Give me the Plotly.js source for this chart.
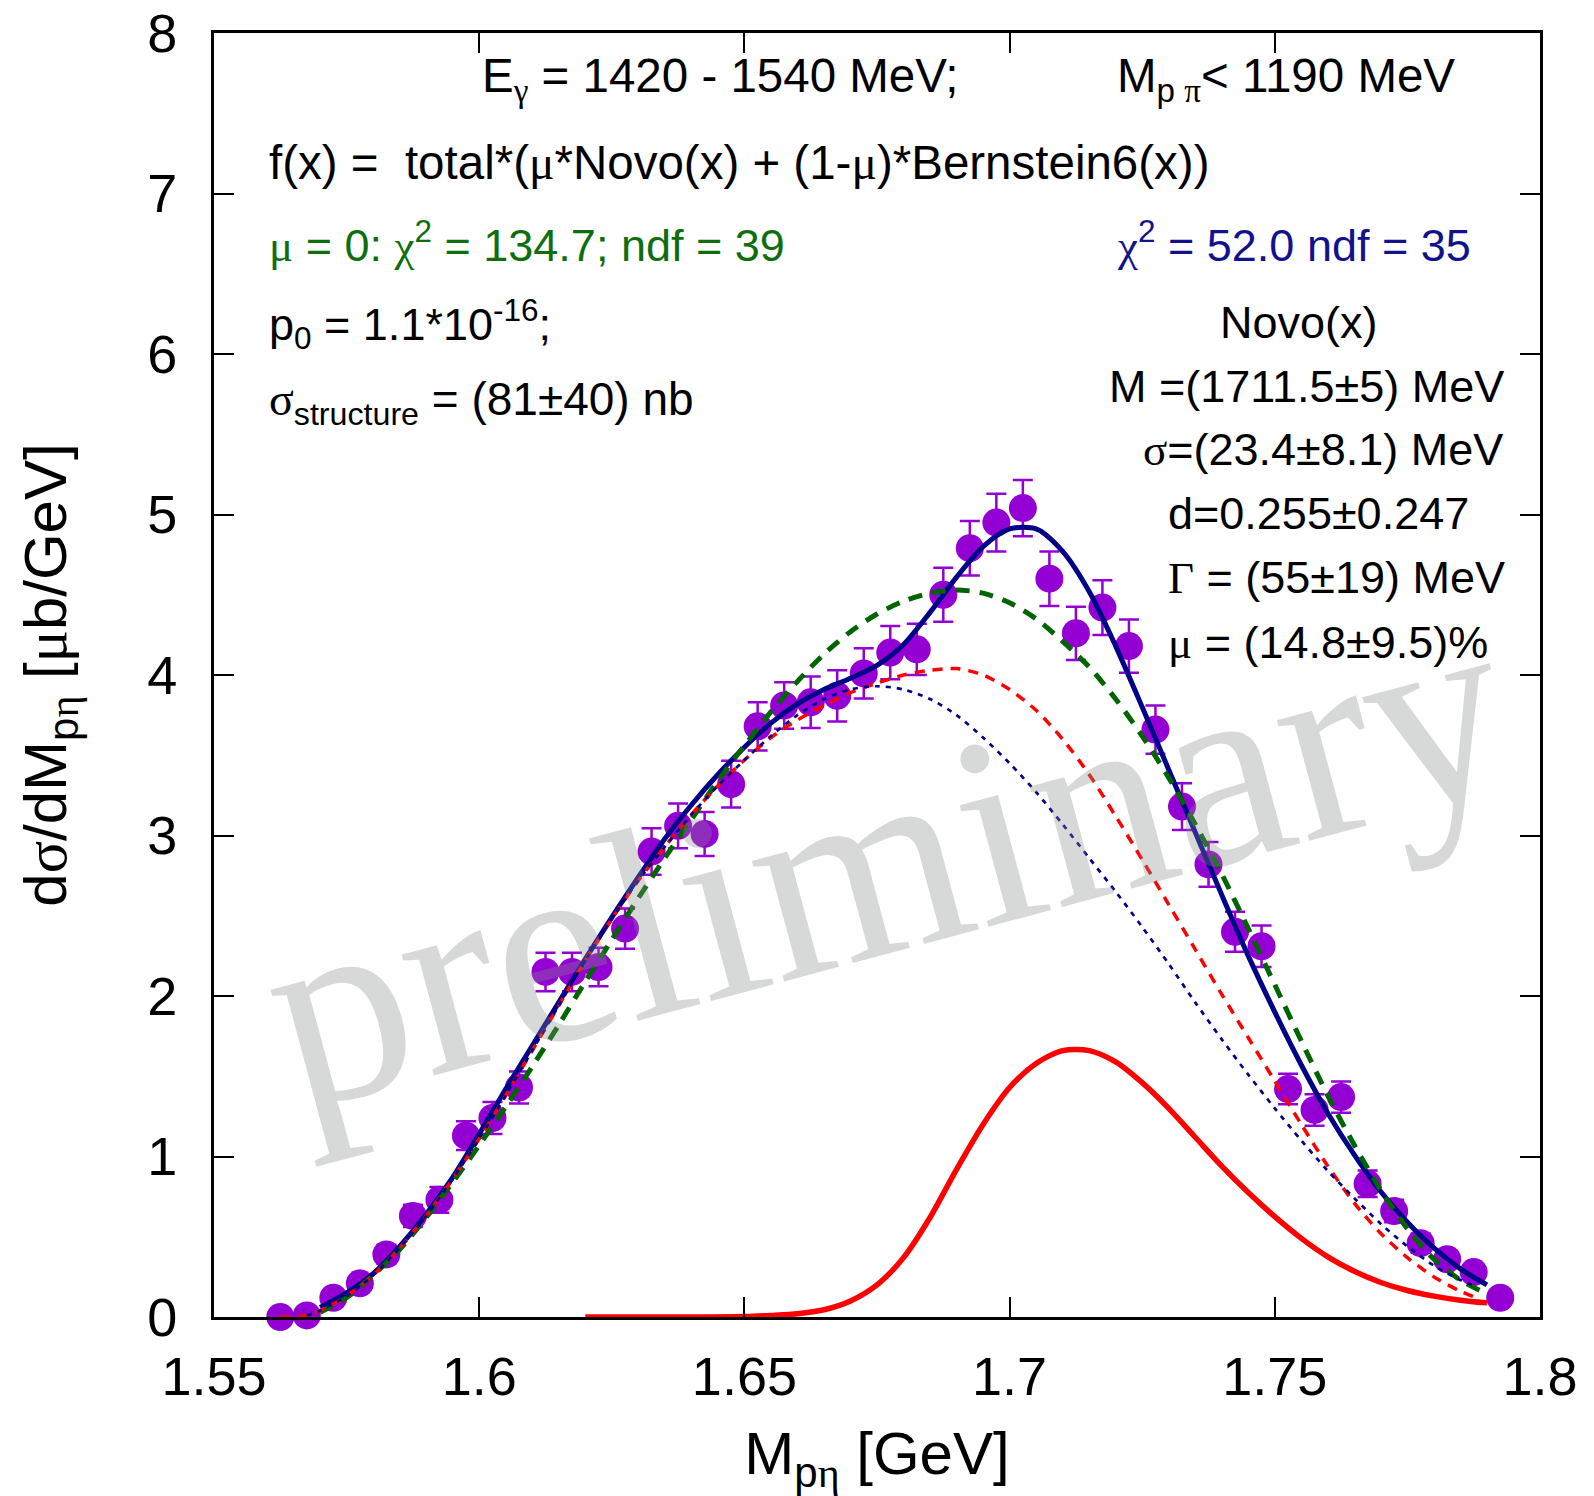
<!DOCTYPE html>
<html>
<head>
<meta charset="utf-8">
<script src="https://cdn.plot.ly/plotly-3.0.1.min.js"></script>
<style>
  html, body { margin: 0; padding: 0; background: #ffffff; }
  #chart { width: 1594px; height: 1496px; }
</style>
</head>
<body>
<div id="chart"></div>
<script>
// ---------------- data ----------------
const binCenters = [1.5625,1.5675,1.5725,1.5775,1.5825,1.5875,1.5925,1.5975,1.6025,1.6075,
  1.6125,1.6175,1.6225,1.6275,1.6325,1.6375,1.6425,1.6475,1.6525,1.6575,
  1.6625,1.6675,1.6725,1.6775,1.6825,1.6875,1.6925,1.6975,1.7025,1.7075,
  1.7125,1.7175,1.7225,1.7275,1.7325,1.7375,1.7425,1.7475,1.7525,1.7575,
  1.7625,1.7675,1.7725,1.7775,1.7825,1.7875,1.7925];
const crossSection = [0.00,0.01,0.12,0.21,0.39,0.63,0.73,1.13,1.24,1.43,
  2.15,2.15,2.18,2.42,2.90,3.06,3.01,3.32,3.68,3.81,
  3.83,3.87,4.01,4.14,4.16,4.50,4.79,4.95,5.04,4.60,
  4.26,4.42,4.18,3.66,3.18,2.82,2.40,2.31,1.42,1.29,
  1.37,0.83,0.66,0.46,0.36,0.28,0.12];
const crossSectionErr = [0.02,0.03,0.04,0.05,0.06,0.07,0.08,0.09,0.10,0.10,
  0.12,0.12,0.12,0.125,0.145,0.14,0.137,0.145,0.15,0.145,
  0.16,0.16,0.156,0.166,0.16,0.168,0.17,0.18,0.175,0.17,
  0.166,0.17,0.166,0.15,0.146,0.14,0.125,0.13,0.095,0.098,
  0.098,0.083,0.07,0.06,0.05,0.04,0.03];

// total fit (mu free) - navy solid
const totalFitX = [1.570,1.575,1.580,1.585,1.590,1.595,1.600,1.605,1.610,1.615,1.620,1.625,1.630,1.635,1.640,1.645,
  1.650,1.655,1.660,1.665,1.670,1.675,1.680,1.685,1.690,1.695,1.700,1.705,1.710,1.715,1.720,1.725,
  1.730,1.735,1.740,1.745,1.750,1.755,1.760,1.765,1.770,1.775,1.780,1.785,1.790];
const totalFitY = [0.06,0.15,0.27,0.44,0.64,0.87,1.14,1.42,1.69,1.96,2.23,2.49,2.74,2.98,3.19,3.38,
  3.55,3.70,3.82,3.91,3.98,4.06,4.19,4.39,4.61,4.80,4.91,4.91,4.77,4.52,4.18,3.80,
  3.41,3.02,2.63,2.25,1.90,1.57,1.27,1.01,0.78,0.59,0.43,0.30,0.20];

// mu = 0 fit - green dashed
const nullFitX = [1.570,1.575,1.580,1.585,1.590,1.595,1.600,1.605,1.610,1.615,1.620,1.625,1.630,1.635,1.640,1.645,
  1.650,1.655,1.660,1.665,1.670,1.675,1.680,1.685,1.690,1.695,1.700,1.705,1.710,1.715,1.720,1.725,
  1.730,1.735,1.740,1.745,1.750,1.755,1.760,1.765,1.770,1.775,1.780,1.785,1.789];
const nullFitY = [0.03,0.12,0.26,0.42,0.62,0.84,1.07,1.31,1.56,1.82,2.09,2.35,2.61,2.86,3.10,3.34,
  3.56,3.77,3.96,4.13,4.27,4.38,4.46,4.51,4.53,4.51,4.45,4.35,4.21,4.05,3.85,3.62,
  3.36,3.07,2.76,2.42,2.07,1.72,1.38,1.07,0.79,0.55,0.36,0.23,0.16];

// Bernstein part - red dashed
const bernsteinX = [1.5625,1.5675,1.570,1.575,1.580,1.585,1.590,1.595,1.600,1.605,1.610,1.615,1.620,1.625,1.630,1.635,1.640,1.645,
  1.650,1.655,1.660,1.665,1.670,1.675,1.680,1.685,1.690,1.695,1.700,1.705,1.710,1.715,1.720,1.725,
  1.730,1.735,1.740,1.745,1.750,1.755,1.760,1.765,1.770,1.775,1.780,1.785,1.788];
const bernsteinY = [0.00,0.01,0.04,0.13,0.26,0.43,0.63,0.86,1.11,1.38,1.66,1.94,2.22,2.48,2.72,2.93,3.13,3.31,
  3.47,3.61,3.72,3.81,3.89,3.95,4.00,4.03,4.04,4.00,3.91,3.78,3.60,3.38,3.12,2.85,
  2.57,2.29,2.01,1.74,1.47,1.20,0.94,0.71,0.52,0.37,0.25,0.16,0.12];

// background of mu=0 fit - navy dotted
const backgroundX = [1.5675,1.570,1.575,1.580,1.585,1.590,1.595,1.600,1.605,1.610,1.615,1.620,1.625,1.630,1.635,1.640,1.645,
  1.650,1.655,1.660,1.665,1.670,1.675,1.680,1.685,1.690,1.695,1.700,1.705,1.710,1.715,1.720,1.725,
  1.730,1.735,1.740,1.745,1.750,1.755,1.760,1.765,1.770,1.775,1.780,1.785,1.788];
const backgroundY = [0.01,0.04,0.13,0.26,0.43,0.63,0.86,1.11,1.38,1.66,1.94,2.22,2.48,2.72,2.93,3.13,3.31,
  3.47,3.62,3.75,3.85,3.91,3.93,3.91,3.85,3.75,3.61,3.45,3.27,3.07,2.86,2.65,2.43,
  2.20,1.96,1.73,1.51,1.30,1.10,0.91,0.74,0.58,0.44,0.32,0.23,0.19];

// Novo signal - red solid
const novoX = [1.620,1.630,1.640,1.650,1.655,1.660,1.665,1.670,1.675,1.680,1.685,1.690,1.695,1.700,1.705,1.710,
  1.715,1.720,1.725,1.730,1.735,1.740,1.745,1.750,1.755,1.760,1.765,1.770,1.775,1.780,1.785,1.790];
const novoY = [0.00,0.00,0.00,0.003,0.01,0.02,0.045,0.10,0.20,0.37,0.62,0.92,1.20,1.43,1.58,1.66,
  1.66,1.59,1.46,1.30,1.12,0.94,0.775,0.625,0.49,0.375,0.285,0.215,0.165,0.13,0.105,0.088];

const xTickVals = [1.55,1.6,1.65,1.7,1.75,1.8];
const xTickText = ["1.55","1.6","1.65","1.7","1.75","1.8"];
const yTickVals = [0,1,2,3,4,5,6,7,8];
const yTickText = ["0","1","2","3","4","5","6","7","8"];

// ---------------- styling ----------------
const SANS = "Liberation Sans, Arial, Helvetica, sans-serif";
const SERIF = "Liberation Serif";
const g = s => '<span style="font-family:' + SERIF + '">' + s + '</span>';
const PURPLE = "#9400d3";
const NAVY = "#000088";
const GREEN = "#006400";

// plot area in pixels
const L = 214, R = 1540, T = 33, B = 1317;
const px = x => (x - L) / (R - L);
const py = y => (B - y) / (B - T);

const traces = [
  { x: binCenters, y: crossSection, type: "scatter", mode: "markers",
    marker: { color: PURPLE, size: 28, line: { width: 0 } },
    error_y: { type: "data", array: crossSectionErr, visible: true, color: PURPLE, thickness: 2.5, width: 10 },
    cliponaxis: false, showlegend: false },
  { x: totalFitX, y: totalFitY, type: "scatter", mode: "lines",
    line: { color: NAVY, width: 5, shape: "spline", smoothing: 0.8 }, showlegend: false },
  { x: nullFitX, y: nullFitY, type: "scatter", mode: "lines",
    line: { color: GREEN, width: 5, dash: "14px,10px", shape: "spline", smoothing: 0.8 }, showlegend: false },
  { x: bernsteinX, y: bernsteinY, type: "scatter", mode: "lines",
    line: { color: "#ff0000", width: 3.5, dash: "10px,8px", shape: "spline", smoothing: 0.8 }, showlegend: false },
  { x: backgroundX, y: backgroundY, type: "scatter", mode: "lines",
    line: { color: NAVY, width: 2.7, dash: "5px,6px", shape: "spline", smoothing: 0.8 }, showlegend: false },
  { x: novoX, y: novoY, type: "scatter", mode: "lines",
    line: { color: "#ff0000", width: 5.5, shape: "spline", smoothing: 0.8 }, showlegend: false, cliponaxis: false }
];

const TXT = 45;
function ann(text, x, y, opts) {
  return Object.assign({ xref: "paper", yref: "paper", x: px(x), y: py(y), text: text,
    showarrow: false, xanchor: "left", yanchor: "middle",
    font: { family: SANS, size: TXT, color: "#000000" } }, opts || {});
}
const big = { font: { family: SANS, size: 47.5, color: "#000000" } };

const annotations = [
  ann("E<sub>" + g("γ") + "</sub> = 1420 - 1540 MeV;", 480, 79, big),
  ann("M<sub>p " + g("π") + "</sub>&lt; 1190 MeV", 1115, 79, big),
  ann("f(x) =  total*(" + g("μ") + "*Novo(x) + (1-" + g("μ") + ")*Bernstein6(x))", 267, 163, big),
  ann(g("μ") + " = 0: " + g("χ") + "<sup>2</sup> = 134.7; ndf = 39", 267, 242, { font: { family: SANS, size: TXT, color: "#0e6e0e" } }),
  ann(g("χ") + "<sup>2</sup> = 52.0 ndf = 35", 1115, 242, { font: { family: SANS, size: TXT, color: "#12128c" } }),
  ann("p<sub>0</sub> = 1.1*10<sup>-16</sup>;", 267, 324),
  ann("Novo(x)", 1299, 323, { xanchor: "center" }),
  ann(g("σ") + "<sub>structure</sub> = (81±40) nb", 267, 402, { font: { family: SANS, size: 46, color: "#000000" } }),
  ann("M =(1711.5±5) MeV", 1107, 386),
  ann(g("σ") + "=(23.4±8.1) MeV", 1141, 449),
  ann("d=0.255±0.247", 1166, 513),
  ann(g("Γ") + " = (55±19) MeV", 1166, 577),
  ann(g("μ") + " = (14.8±9.5)%", 1166, 642),
  // watermark
  { xref: "paper", yref: "paper", x: px(886), y: py(860), text: "preliminary", showarrow: false,
    xanchor: "center", yanchor: "middle", textangle: -15,
    font: { family: SERIF, size: 272, color: "rgba(135,140,140,0.33)" } }
];

const axisCommon = {
  showgrid: false, zeroline: false, showline: true, linecolor: "#000000", linewidth: 3,
  mirror: "ticks", ticks: "inside", ticklen: 20, tickwidth: 2, tickcolor: "#000000",
  tickfont: { family: SANS, size: 54, color: "#000000" }
};

const layout = {
  width: 1594, height: 1496,
  margin: { l: L, r: 1594 - R, t: T, b: 1496 - B },
  paper_bgcolor: "#ffffff", plot_bgcolor: "#ffffff",
  showlegend: false,
  xaxis: Object.assign({}, axisCommon, {
    range: [1.55, 1.8], tickmode: "array", tickvals: xTickVals, ticktext: xTickText,
    ticklabelstandoff: 10,
    title: { text: "M<sub>p" + g("η") + "</sub> [GeV]", font: { family: SANS, size: 60, color: "#000000" }, standoff: 28 }
  }),
  yaxis: Object.assign({}, axisCommon, {
    range: [0, 8], tickmode: "array", tickvals: yTickVals, ticktext: yTickText,
    ticklabelstandoff: 23,
    title: { text: "d" + g("σ") + "/dM<sub>p" + g("η") + "</sub> [" + g("μ") + "b/GeV]", font: { family: SANS, size: 60, color: "#000000" }, standoff: 62 }
  }),
  annotations: annotations
};

Plotly.newPlot("chart", traces, layout, { displayModeBar: false, staticPlot: true });
</script>
</body>
</html>
